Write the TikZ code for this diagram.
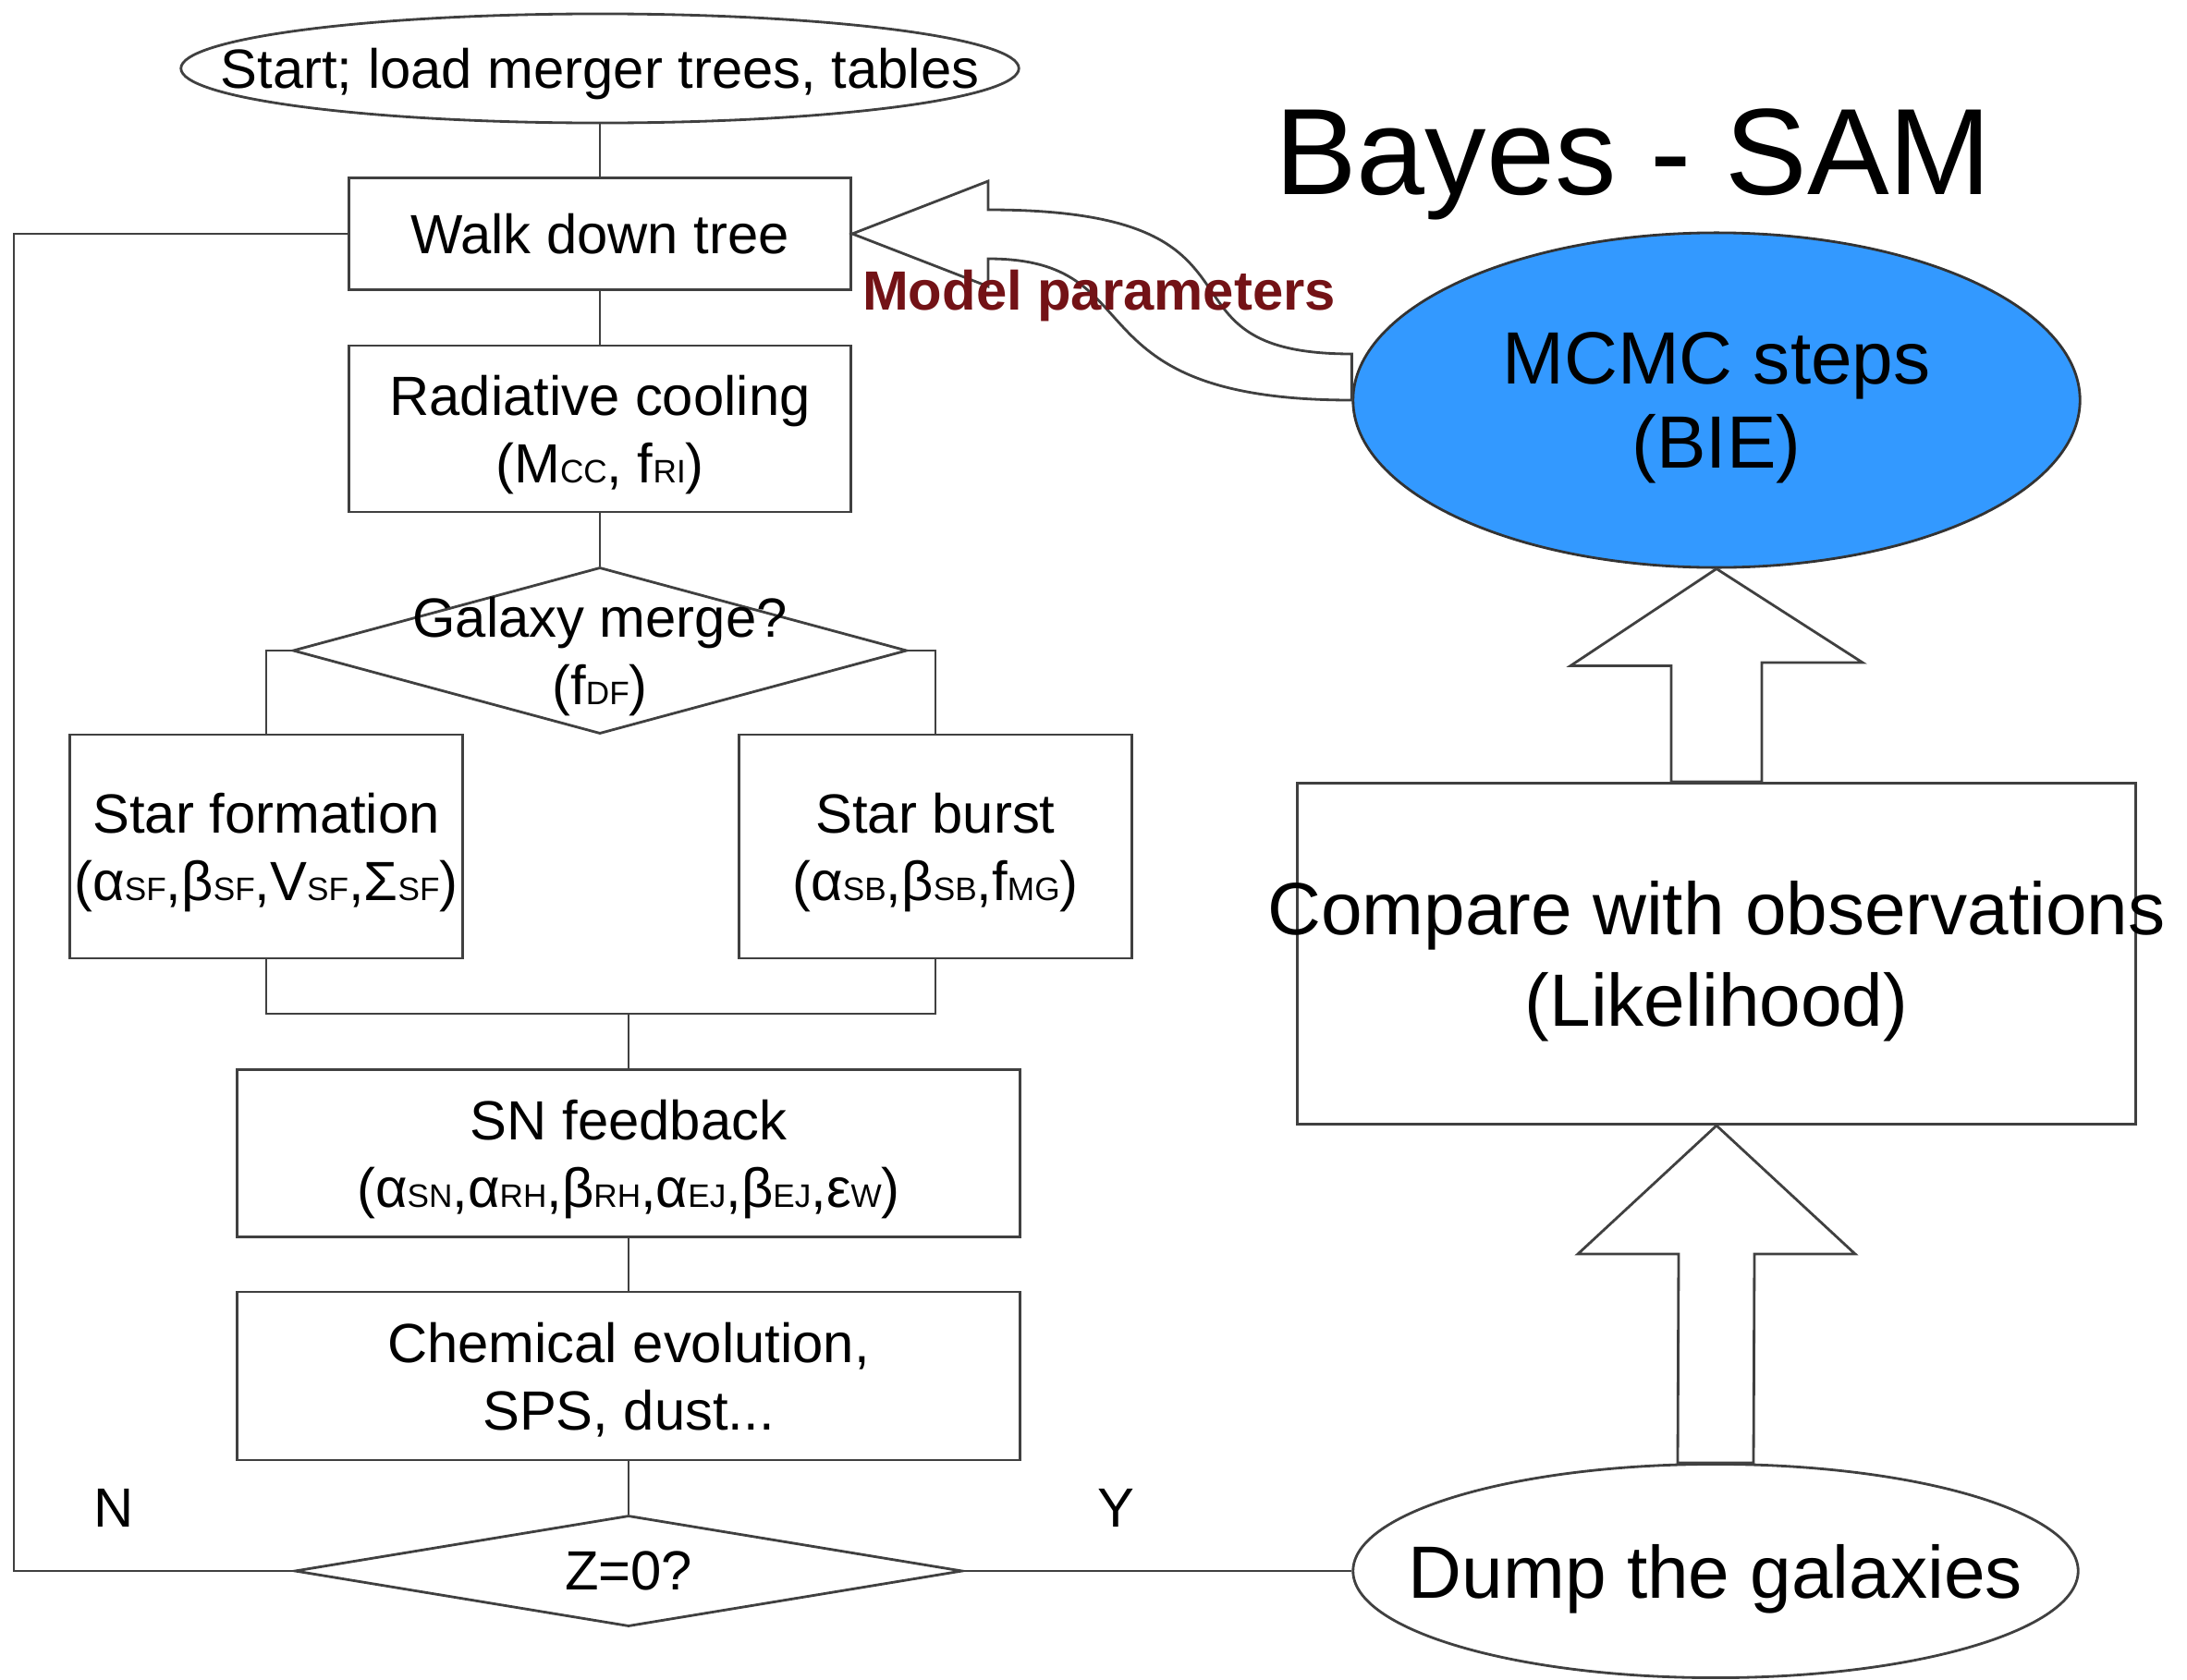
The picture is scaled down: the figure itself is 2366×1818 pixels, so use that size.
\documentclass[tikz,border=0pt]{standalone}
\usepackage{fontspec}
\setmainfont{Liberation Sans}
\usetikzlibrary{shapes.geometric,calc}
\definecolor{linec}{gray}{0.25}
\definecolor{mcmcblue}{RGB}{51,153,255}
\definecolor{paramred}{RGB}{115,18,22}
\newcommand{\idx}[1]{{\fontsize{10}{10}\selectfont #1}}
\newcommand{\nw}[1]{\makebox[0pt]{#1}}
\tikzset{
every node/.style={font=\fontsize{17}{20.8}\selectfont},
big/.style={font=\fontsize{22.8}{25.9}\selectfont},
box/.style={draw=linec,rectangle,inner sep=0pt,text depth=0pt,align=center},
choice/.style={draw=linec,diamond,aspect=3.7,inner sep=0pt,text depth=0pt,align=center},
oval/.style={draw=linec,ellipse,inner sep=0pt,text depth=0pt,align=center},
fat/.style={draw=linec,line join=miter},
every edge/.style={draw=linec}
}
\begin{document}
\begin{tikzpicture}[x=0.01cm,y=-0.01cm,line width=0.8pt]
\useasboundingbox (0,0) rectangle (2366,1818);

\node[oval,minimum width=9.06cm,minimum height=1.18cm] (start) at (649,74) {\nw{Start; load merger trees, tables}};
\node[box,minimum width=5.43cm,minimum height=1.21cm]  (walk)  at (649,253)  {Walk down tree};
\node[box,minimum width=5.43cm,minimum height=1.80cm]  (cool)  at (649,464)  {Radiative cooling\\(M\idx{CC}, f\idx{RI})};
\node[choice,minimum width=6.64cm,minimum height=1.80cm] (merge) at (649,704) {\nw{Galaxy merge?}\\(f\idx{DF})};
\node[box,minimum width=4.24cm,minimum height=2.42cm]  (sf)    at (288,916)  {Star formation\\\nw{(α\idx{SF},β\idx{SF},V\idx{SF},Σ\idx{SF})}};
\node[box,minimum width=4.25cm,minimum height=2.42cm]  (sb)    at (1012,916) {Star burst\\(α\idx{SB},β\idx{SB},f\idx{MG})};
\node[box,minimum width=8.46cm,minimum height=1.81cm]  (sn)    at (680,1248) {SN feedback\\(α\idx{SN},α\idx{RH},β\idx{RH},α\idx{EJ},β\idx{EJ},ε\idx{W})};
\node[box,minimum width=8.46cm,minimum height=1.82cm]  (chem)  at (680,1489) {Chemical evolution,\\SPS, dust...};
\node[choice,minimum width=7.22cm,minimum height=1.20cm] (zero) at (680,1700) {\nw{Z=0?}};
\node[anchor=base] (no)  at (123,1652)  {N};
\node[anchor=base] (yes) at (1207,1652) {Y};

\node[oval,big,draw=black!80,fill=mcmcblue,minimum width=7.86cm,minimum height=3.62cm] (mcmc) at (1857,433) {MCMC steps\\(BIE)};
\node[box,big,font=\fontsize{22.8}{28.4}\selectfont,minimum width=9.07cm,minimum height=3.69cm] (compare) at (1857,1032) {\nw{Compare with observations}\\(Likelihood)};
\node[oval,big,minimum width=7.84cm,minimum height=2.31cm] (dump) at (1856,1700) {\nw{Dump the galaxies}};
\node[anchor=base,font=\fontsize{37.8}{40}\selectfont] (title) at (1767,210) {Bayes - SAM};

\coordinate (join) at (680,1097);
\coordinate (back) at (15,1700);

\path (start) edge (walk)
      (walk)  edge (cool)
      (cool)  edge (merge)
      (sn)    edge (chem)
      (chem)  edge (zero)
      (zero)  edge (dump);
\draw[linec] (merge.west) -| (sf.north)
             (merge.east) -| (sb.north)
             (sf.south) |- (join) -| (sb.south)
             (join) -- (sn.north)
             (zero.west) -- (back) |- (walk.west);

\draw[fat] (mcmc.south) -- ++(-158,105) -- ++(109,0) -- ($(compare.north)+(-49,0)$)
           -- ($(compare.north)+(49,0)$) -- ++(0,-129) -- ++(109,0) -- cycle;
\draw[fat] (compare.south) -- ++(-150,139) -- ++(109,0) -- ($(dump.north)+(-41,0)$)
           -- ($(dump.north)+(41,0)$) -- ($(compare.south)+(41,139)$) -- ++(109,0) -- cycle;
\draw[fat] (walk.east) -- ++(147,-57) -- ++(0,31) .. controls +(333,0) and +(-232,0) .. ($(mcmc.west)+(0,-50)$)
           -- (mcmc.west) .. controls +(-312,0) and +(183,0) .. ($(walk.east)+(147,27)$) -- ++(0,30) -- cycle;
\node[anchor=base,font=\bfseries\fontsize{17}{20}\selectfont,text=paramred] (params) at (1189,335) {Model parameters};
\end{tikzpicture}
\end{document}
